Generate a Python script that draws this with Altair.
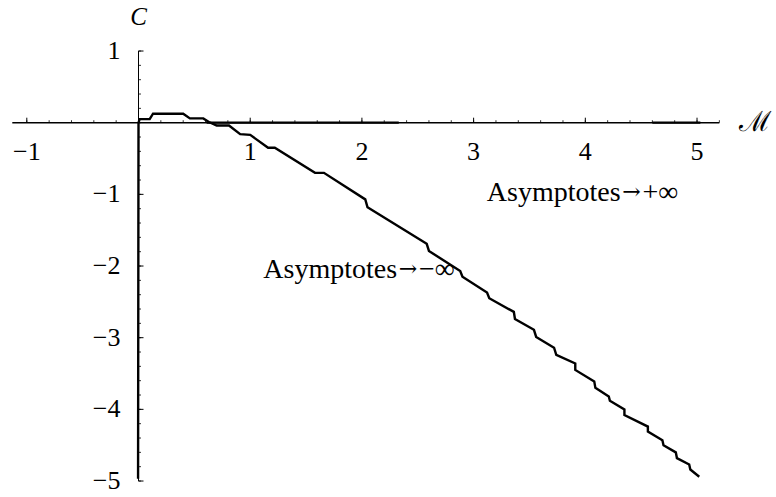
import altair as alt
import pandas as pd

# Contour C(M): vertical branch at M = 0, small hump, then the descending branch
curve_m = [-0.004, 0.0, 0.01, 0.10, 0.13, 0.40, 0.46, 0.58, 0.63, 0.70, 0.81, 0.91,
           1.00, 1.16, 1.22, 1.58, 1.66, 2.03, 2.05, 2.58, 2.60, 2.88, 2.90, 3.12,
           3.14, 3.36, 3.37, 3.54, 3.56, 3.72, 3.74, 3.91, 3.91, 4.08, 4.09, 4.21,
           4.22, 4.35, 4.35, 4.56, 4.56, 4.69, 4.70, 4.81, 4.82, 4.93, 4.94, 5.02]
curve_c = [-4.97, 0.0, 0.05, 0.05, 0.125, 0.125, 0.06, 0.06, 0.01, -0.04, -0.04, -0.16,
           -0.17, -0.35, -0.35, -0.70, -0.70, -1.07, -1.18, -1.69, -1.79, -2.07, -2.15, -2.37,
           -2.45, -2.64, -2.74, -2.89, -2.99, -3.14, -3.24, -3.36, -3.45, -3.61, -3.70, -3.82,
           -3.88, -4.00, -4.08, -4.24, -4.31, -4.43, -4.50, -4.60, -4.68, -4.77, -4.84, -4.94]

# Pieces of the C = 0 branch lying on the horizontal axis
zero_seg_start = [0.61, 4.60]
zero_seg_end = [2.33, 5.03]

# Axis ticks and labels
x_major = [-1, 1, 2, 3, 4, 5]
x_labels = ["\u22121", "1", "2", "3", "4", "5"]
y_major = [1, -1, -2, -3, -4, -5]
y_labels = ["1", "\u22121", "\u22122", "\u22123", "\u22124", "\u22125"]
x_minor = [round(-1.0 + 0.2 * i, 2) for i in range(32)]
y_minor = [round(-5.0 + 0.2 * i, 2) for i in range(31)]

# Region annotations: word, arrow, limit (anchored at the arrow)
annot_word = ["Asymptotes", "Asymptotes"]
annot_limit = ["+\u221e", "\u2212\u221e"]
annot_m = [4.414, 2.413]
annot_c = [-0.98, -2.06]

W, H = 776, 497
xs = alt.Scale(domain=[-1.240, 5.707], nice=False, zero=False)
ys = alt.Scale(domain=[-5.223, 1.712], nice=False, zero=False)
SERIF = "Liberation Serif"

curve_df = pd.DataFrame({"M": curve_m, "C": curve_c, "i": range(len(curve_m))})
zero_df = pd.DataFrame({"a": zero_seg_start, "b": zero_seg_end})
xmaj_df = pd.DataFrame({"v": x_major, "lab": x_labels})
ymaj_df = pd.DataFrame({"v": y_major, "lab": y_labels})
xmin_df = pd.DataFrame({"v": x_minor})
ymin_df = pd.DataFrame({"v": y_minor})
ann_df = pd.DataFrame({"w": annot_word, "lim": annot_limit, "M": annot_m, "C": annot_c})

# Axis lines
x_axis = alt.Chart().mark_rule(color="black", strokeWidth=1.5).encode(
    x=alt.datum(-1.13, scale=xs, axis=None), x2=alt.datum(5.2),
    y=alt.datum(0, scale=ys, axis=None))
y_axis = alt.Chart().mark_rule(color="black", strokeWidth=1.0).encode(
    x=alt.datum(0, scale=xs, axis=None),
    y=alt.datum(1, scale=ys, axis=None), y2=alt.datum(-5))

# Ticks
x_major_ticks = alt.Chart(xmaj_df).mark_rule(color="black", strokeWidth=1, y2Offset=-5).encode(
    x=alt.X("v:Q", scale=xs, axis=None), y=alt.datum(0, scale=ys, axis=None), y2=alt.datum(0))
x_minor_ticks = alt.Chart(xmin_df).mark_rule(color="black", strokeWidth=0.8, y2Offset=-2.5).encode(
    x=alt.X("v:Q", scale=xs, axis=None), y=alt.datum(0, scale=ys, axis=None), y2=alt.datum(0))
y_major_ticks = alt.Chart(ymaj_df).mark_rule(color="black", strokeWidth=1, x2Offset=5).encode(
    y=alt.Y("v:Q", scale=ys, axis=None), x=alt.datum(0, scale=xs, axis=None), x2=alt.datum(0))
y_minor_ticks = alt.Chart(ymin_df).mark_rule(color="black", strokeWidth=0.8, x2Offset=2.5).encode(
    y=alt.Y("v:Q", scale=ys, axis=None), x=alt.datum(0, scale=xs, axis=None), x2=alt.datum(0))

# Tick labels
x_tick_labels = alt.Chart(xmaj_df).mark_text(
    font=SERIF, fontSize=26, dy=29, baseline="middle", align="center", color="black").encode(
    x=alt.X("v:Q", scale=xs, axis=None), y=alt.datum(0, scale=ys, axis=None), text="lab:N")
y_tick_labels = alt.Chart(ymaj_df).mark_text(
    font=SERIF, fontSize=26, dx=-18, baseline="middle", align="right", color="black").encode(
    y=alt.Y("v:Q", scale=ys, axis=None), x=alt.datum(0, scale=xs, axis=None), text="lab:N")

# Axis titles
c_title = alt.Chart().mark_text(
    font=SERIF, fontSize=25, fontStyle="italic", baseline="middle", align="center", color="black").encode(
    x=alt.datum(0, scale=xs, axis=None), y=alt.datum(1.475, scale=ys, axis=None), text=alt.value("C"))
m_title = alt.Chart().mark_text(
    font="DejaVu Serif", fontSize=28, baseline="middle", align="center", color="black").encode(
    x=alt.datum(5.52, scale=xs, axis=None), y=alt.datum(0, scale=ys, axis=None), text=alt.value("\u2133"))

# C = 0 branch segments along the axis
zero_branch = alt.Chart(zero_df).mark_rule(color="black", strokeWidth=2.2).encode(
    x=alt.X("a:Q", scale=xs, axis=None), x2="b:Q", y=alt.datum(0, scale=ys, axis=None))

# Main curve
curve = alt.Chart(curve_df).mark_line(color="black", strokeWidth=2.4, strokeJoin="miter").encode(
    x=alt.X("M:Q", scale=xs, axis=None), y=alt.Y("C:Q", scale=ys, axis=None), order="i:Q")

# Region annotations
ann_base = alt.Chart(ann_df).encode(
    x=alt.X("M:Q", scale=xs, axis=None), y=alt.Y("C:Q", scale=ys, axis=None))
ann_word = ann_base.mark_text(
    font=SERIF, fontSize=28, baseline="middle", align="right", dx=-11, color="black").encode(text="w:N")
ann_arrow = ann_base.mark_text(
    font="DejaVu Serif", fontSize=22, baseline="middle", align="center", dy=-1, color="black").encode(
    text=alt.value("\u2192"))
ann_lim = ann_base.mark_text(
    font=SERIF, fontSize=28, baseline="middle", align="left", dx=11, color="black").encode(text="lim:N")

chart = alt.layer(
    x_axis, y_axis, x_minor_ticks, x_major_ticks, y_minor_ticks, y_major_ticks,
    zero_branch, curve, x_tick_labels, y_tick_labels, c_title, m_title,
    ann_word, ann_arrow, ann_lim
).properties(
    width=W, height=H, autosize=alt.AutoSizeParams(type="none"), padding=0,
    background="white"
).configure_view(stroke=None)

chart.save("out.html", embed_options={"renderer": "svg", "actions": False})
